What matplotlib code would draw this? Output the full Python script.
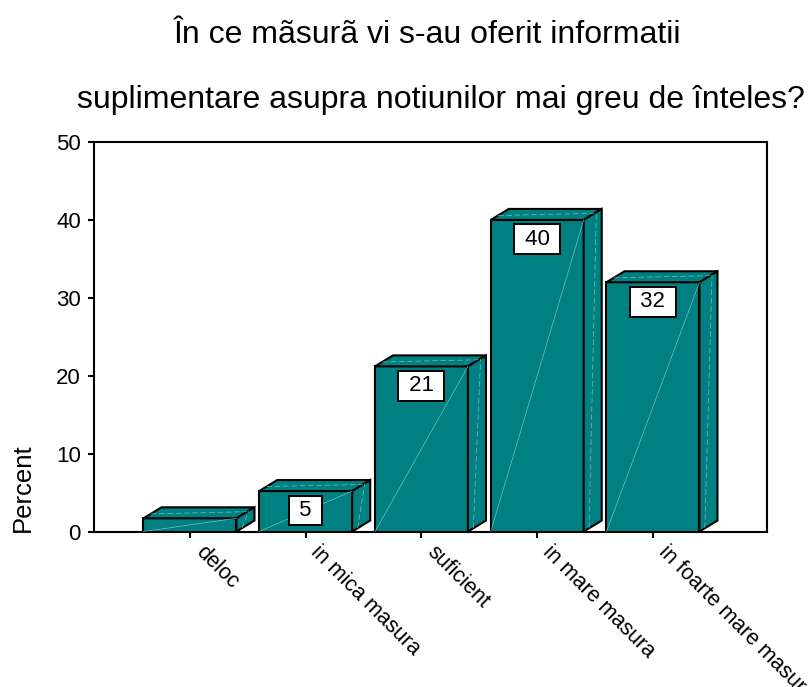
import matplotlib
matplotlib.use('Agg')
import matplotlib.pyplot as plt
import matplotlib.transforms as mtransforms
from matplotlib.patches import Polygon

plt.rcParams['font.family'] = ['Liberation Sans', 'DejaVu Sans']

categories = ['deloc', 'in mica masura', 'suficient', 'in mare masura', 'in foarte mare masura']
percent = [1.7, 5.2, 21.2, 40.0, 32.0]
bar_labels = ['', '5', '21', '40', '32']
yticks = [0, 10, 20, 30, 40, 50]

teal = '#008080'
light = '#9fe0e0'
w = 0.803    # bar width (category units)
dx = 0.156   # depth offset, x
dy = 1.41    # depth offset, y

fig = plt.figure(figsize=(8.11, 6.87), dpi=100)
ax = fig.add_axes([0.1159, 0.2263, 0.8298, 0.567])

for i, v in enumerate(percent):
    x0, x1 = i - w / 2, i + w / 2
    front = Polygon([(x0, 0), (x1, 0), (x1, v), (x0, v)], closed=True,
                    facecolor=teal, edgecolor='black', lw=1.5, zorder=3)
    top = Polygon([(x0, v), (x1, v), (x1 + dx, v + dy), (x0 + dx, v + dy)], closed=True,
                  facecolor=teal, edgecolor='black', lw=1.5, zorder=3)
    side = Polygon([(x1, 0), (x1 + dx, dy), (x1 + dx, v + dy), (x1, v)], closed=True,
                   facecolor=teal, edgecolor='black', lw=1.5, zorder=3)
    for p in (front, top, side):
        ax.add_patch(p)
    # faint highlight streaks
    ax.plot([x0, x1], [0, v], color=light, lw=0.5, alpha=0.7, zorder=4)
    ax.plot([x0 + dx * 0.4, x1 + dx * 0.6], [v + dy * 0.4, v + dy * 0.6], color=light, lw=0.5, alpha=0.7,
            ls=(0, (8, 4)), zorder=4)
    ax.plot([x1 + dx * 0.3, x1 + dx * 0.7], [dy * 0.3, v + dy * 0.7], color=light, lw=0.5, alpha=0.7,
            ls=(0, (8, 4)), zorder=4)
    if bar_labels[i]:
        ax.annotate(' ' + bar_labels[i] + ' ', xy=(i, v), xytext=(0, -14), textcoords='offset points',
                    ha='center', va='center', fontsize=16, zorder=6,
                    bbox=dict(boxstyle='square,pad=0.2', facecolor='white', edgecolor='black', lw=1.4))

ax.set_xlim(-0.829, 4.985)
ax.set_ylim(0, 50)
ax.set_yticks(yticks)
ax.set_yticklabels([str(t) for t in yticks], fontsize=16)
ax.set_xticks(range(len(categories)))
ax.set_xticklabels(categories, rotation=-45, ha='left', va='top', rotation_mode='anchor', fontsize=15.5)
ax.tick_params(axis='y', direction='out', length=4.5, width=1.5, pad=5)
ax.tick_params(axis='x', direction='out', length=4.5, width=1.5, pad=3)
shift = mtransforms.ScaledTranslation(16 / 100, 0, fig.dpi_scale_trans)
for lbl in ax.get_xticklabels():
    lbl.set_transform(lbl.get_transform() + shift)
for s in ax.spines.values():
    s.set_linewidth(1.5)

fig.text(0.527, 1 - 43 / 687, 'În ce mãsurã vi s-au oferit informatii', ha='center', va='baseline', fontsize=23)
fig.text(0.544, 1 - 108 / 687, 'suplimentare asupra notiunilor mai greu de înteles?', ha='center', va='baseline', fontsize=23)
fig.text(0.0284, 0.2904, 'Percent', rotation=90, ha='center', va='center', fontsize=18.5)

fig.savefig('out.png', dpi=100)
